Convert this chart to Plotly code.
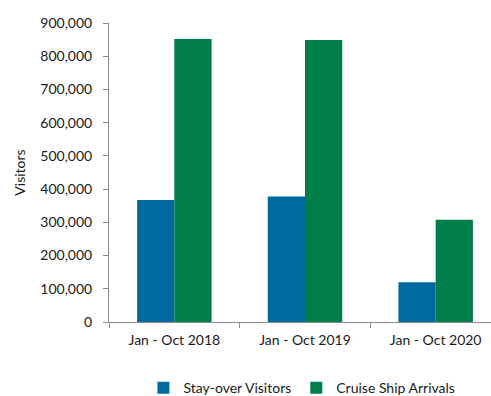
import plotly.graph_objects as go

# Visitor arrivals, January to October of each year
periods = ["Jan - Oct 2018", "Jan - Oct 2019", "Jan - Oct 2020"]
stay_over = [367000, 378000, 120000]
cruise = [852000, 849000, 308000]
y_ticks = [0, 100000, 200000, 300000, 400000, 500000, 600000, 700000, 800000, 900000]
y_tick_labels = [f"{v:,}" for v in y_ticks]

BLUE = "#006a9f"
GREEN = "#007e4a"
AXIS_GREY = "#8c8c8c"
TEXT = "#1a1a1a"
FONT = "Lato"

fig = go.Figure()
fig.add_trace(go.Bar(name="Stay-over Visitors", x=periods, y=stay_over,
                     marker=dict(color=BLUE, line=dict(width=0))))
fig.add_trace(go.Bar(name="Cruise Ship Arrivals", x=periods, y=cruise,
                     marker=dict(color=GREEN, line=dict(width=0))))

fig.update_layout(
    width=491, height=396,
    margin=dict(l=109, r=0, t=23, b=74, autoexpand=False),
    paper_bgcolor="white", plot_bgcolor="white",
    barmode="group", bargap=0.43, bargroupgap=0,
    font=dict(family=FONT, size=14, color=TEXT),
    showlegend=True,
    legend=dict(orientation="h", xanchor="center", x=0.505,
                yref="container", yanchor="middle", y=0.02,
                font=dict(size=14), itemwidth=30, tracegroupgap=0),
)

fig.update_xaxes(
    range=[-0.5, 2.4235],
    showline=True, linecolor=AXIS_GREY, linewidth=1,
    ticks="outside", tickson="boundaries", ticklen=5, tickcolor=AXIS_GREY,
    showgrid=False, zeroline=False, ticklabelstandoff=5,
)
fig.update_yaxes(
    range=[0, 900000], tickvals=y_ticks, ticktext=y_tick_labels,
    showline=True, linecolor=AXIS_GREY, linewidth=1,
    ticks="outside", ticklen=5, tickcolor=AXIS_GREY,
    showgrid=False, zeroline=False, ticklabelstandoff=8,
    title=dict(text="Visitors", standoff=11, font=dict(size=14)),
)

fig.write_html("out.html")
